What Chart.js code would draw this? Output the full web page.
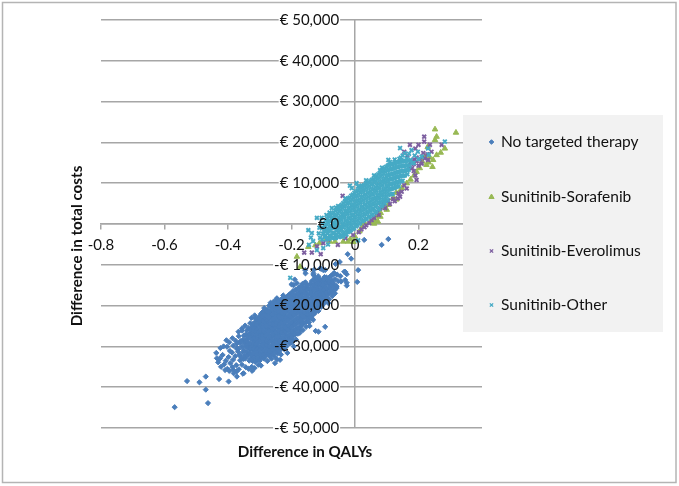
<!DOCTYPE html>
<html><head><meta charset="utf-8">
<script src="https://cdn.jsdelivr.net/npm/chart.js@4"></script>
<style>html,body{margin:0;padding:0;background:#fff}canvas{display:block}</style>
</head><body><canvas id="c" width="679" height="486"></canvas>
<script>
const seriesNames = ['No targeted therapy','Sunitinib-Sorafenib','Sunitinib-Everolimus','Sunitinib-Other'];
const qalyTickLabels = ['-0.8','-0.6','-0.4','-0.2','0','0.2','0.4'];
const costTickLabels = ['-€ 50,000','-€ 40,000','-€ 30,000','-€ 20,000','-€ 10,000','€ 0','€ 10,000','€ 20,000','€ 30,000','€ 40,000','€ 50,000'];
const xAxisTitle = 'Difference in QALYs';
const yAxisTitle = 'Difference in total costs';

// [difference in QALYs, difference in costs]
const noTargetedTherapy = [
[-.568,-44900],[-.463,-43900],[-.47,-40600],[-.529,-38500],[-.49,-38800],[-.47,-37400],[-.428,-38000],[-.398,-38600],
[.01,-11300],[.007,-14200],[-.023,-7400],[-.012,-8500],[-.034,-11700],[-.026,-12300],[-.031,-13700],[-.026,-14400],[-.026,-15100],[.029,-3900],[.084,-5100],[.105,-3700],
[-.048,-9300],[-.061,-9800],[-.094,-25200],[-.124,-26200],[-.058,-15700],[-.143,-25000],
[-.314,-23100],[-.356,-25600],[-.367,-26400],[-.299,-23900],[-.246,-18200],[-.157,-11300],[-.131,-12500],[-.1,-11300],[-.066,-12100],[-.031,-11700],[-.058,-15400],[-.063,-17000],[-.084,-19400],[-.115,-26400],[-.136,-23100],[-.173,-26000],[-.236,-33300],[-.252,-34100],[-.325,-35000],[-.351,-36600],[-.383,-35800],[-.425,-32900],[-.435,-32900],[-.409,-35800],[-.372,-37400],[-.131,-12100],[-.11,-10900],[-.094,-11300],[-.194,-15000],[-.2,-14800],
[-.437,-31600],[-.431,-33900],[-.424,-30400],[-.427,-33100],[-.422,-35000],[-.414,-30000],[-.417,-32100],[-.412,-34400],
[-.405,-28500],[-.403,-30100],[-.407,-33500],[-.402,-35500],[-.396,-29000],[-.394,-31100],[-.398,-32600],[-.393,-34100],[-.396,-36000],
[-.386,-28000],[-.383,-29800],[-.387,-31500],[-.384,-33300],[-.386,-35100],[-.382,-36600],
[-.376,-28600],[-.373,-30500],[-.377,-32400],[-.374,-34600],[-.372,-36100],
[-.366,-27500],[-.363,-29100],[-.367,-30600],[-.364,-32100],[-.362,-33400],[-.366,-35600],
[-.356,-26100],[-.353,-28400],[-.357,-30000],[-.354,-31500],[-.352,-33100],[-.356,-34500],[-.353,-36700],
[-.346,-24900],[-.343,-27000],[-.347,-28500],[-.344,-30000],[-.342,-31400],[-.346,-33000],[-.344,-35100],
[-.336,-25500],[-.333,-27100],[-.337,-28200],[-.334,-29500],[-.332,-30800],[-.336,-32000],[-.333,-33500],[-.335,-35500],
[-.326,-23000],[-.323,-25000],[-.327,-26200],[-.324,-27400],[-.322,-28600],[-.326,-29800],[-.323,-31000],[-.325,-32200],[-.322,-33600],[-.324,-36000],
[-.316,-22400],[-.313,-23900],[-.317,-25100],[-.314,-26300],[-.312,-27500],[-.316,-28700],[-.313,-29900],[-.315,-31100],[-.312,-32300],[-.314,-33800],[-.316,-35300],
[-.306,-23200],[-.303,-24400],[-.307,-25600],[-.304,-26800],[-.302,-28000],[-.306,-29200],[-.303,-30400],[-.305,-31600],[-.302,-32800],[-.304,-34500],
[-.296,-22000],[-.293,-23200],[-.297,-24400],[-.294,-25600],[-.292,-26800],[-.296,-28000],[-.293,-29200],[-.295,-30400],[-.292,-31600],[-.294,-32800],[-.296,-34700],
[-.286,-20600],[-.283,-21900],[-.287,-23100],[-.284,-24300],[-.282,-25500],[-.286,-26700],[-.283,-27900],[-.285,-29100],[-.282,-30300],[-.284,-31500],[-.286,-33000],
[-.276,-21000],[-.273,-22200],[-.277,-23400],[-.274,-24600],[-.272,-25800],[-.276,-27000],[-.273,-28200],[-.275,-29400],[-.272,-30600],[-.274,-31800],[-.276,-33600],
[-.266,-19300],[-.263,-20500],[-.267,-21700],[-.264,-22900],[-.262,-24100],[-.266,-25300],[-.263,-26500],[-.265,-27700],[-.262,-28900],[-.264,-30100],[-.266,-31400],[-.263,-33000],
[-.256,-19000],[-.253,-20200],[-.257,-21400],[-.254,-22600],[-.252,-23800],[-.256,-25000],[-.253,-26200],[-.255,-27400],[-.252,-28600],[-.254,-29800],[-.256,-31000],[-.253,-32500],
[-.246,-18400],[-.243,-19700],[-.247,-20900],[-.244,-22100],[-.242,-23300],[-.246,-24500],[-.243,-25700],[-.245,-26900],[-.242,-28100],[-.244,-29300],[-.246,-30500],[-.243,-31700],[-.245,-33200],
[-.236,-18700],[-.233,-19900],[-.237,-21100],[-.234,-22300],[-.232,-23500],[-.236,-24700],[-.233,-25900],[-.235,-27100],[-.232,-28300],[-.234,-29500],[-.236,-30700],[-.233,-32000],
[-.226,-17500],[-.223,-18700],[-.227,-19900],[-.224,-21100],[-.222,-22300],[-.226,-23500],[-.223,-24700],[-.225,-25900],[-.222,-27100],[-.224,-28300],[-.226,-29500],[-.223,-30700],
[-.216,-17900],[-.213,-19100],[-.217,-20300],[-.214,-21500],[-.212,-22700],[-.216,-23900],[-.213,-25100],[-.215,-26300],[-.212,-27500],[-.214,-28700],[-.216,-30000],[-.213,-31600],
[-.206,-17200],[-.203,-18400],[-.207,-19600],[-.204,-20800],[-.202,-22000],[-.206,-23200],[-.203,-24400],[-.205,-25600],[-.202,-26800],[-.204,-28000],[-.206,-29300],
[-.196,-16500],[-.193,-17700],[-.197,-18900],[-.194,-20100],[-.192,-21300],[-.196,-22500],[-.193,-23700],[-.195,-24900],[-.192,-26100],[-.194,-27300],[-.196,-28500],[-.193,-30000],
[-.186,-16000],[-.183,-17200],[-.187,-18400],[-.184,-19600],[-.182,-20800],[-.186,-22000],[-.183,-23200],[-.185,-24400],[-.182,-25600],[-.184,-26800],[-.186,-28300],
[-.176,-15600],[-.173,-16800],[-.177,-18000],[-.174,-19200],[-.172,-20400],[-.176,-21600],[-.173,-22800],[-.175,-24000],[-.172,-25200],[-.174,-26700],
[-.166,-14700],[-.163,-15900],[-.167,-17100],[-.164,-18300],[-.162,-19500],[-.166,-20700],[-.163,-21900],[-.165,-23100],[-.162,-24300],[-.164,-26000],
[-.156,-14300],[-.153,-15500],[-.157,-16700],[-.154,-17900],[-.152,-19100],[-.156,-20300],[-.153,-21500],[-.155,-22700],[-.152,-24000],[-.154,-25200],
[-.146,-15800],[-.143,-17000],[-.147,-18200],[-.144,-19400],[-.142,-20600],[-.146,-21800],[-.143,-23000],[-.145,-24100],
[-.136,-14000],[-.133,-15200],[-.137,-16400],[-.134,-17600],[-.132,-18800],[-.136,-20000],[-.133,-21200],[-.135,-22400],[-.132,-23500],
[-.126,-13200],[-.123,-14400],[-.127,-15600],[-.124,-16800],[-.122,-18000],[-.126,-19200],[-.123,-20400],[-.125,-21700],
[-.116,-12800],[-.113,-14000],[-.117,-15200],[-.114,-16400],[-.112,-17600],[-.116,-18800],[-.113,-20000],[-.115,-21300],
[-.106,-14100],[-.103,-15300],[-.107,-16500],[-.104,-17700],[-.102,-18900],[-.106,-20300],
[-.096,-13000],[-.093,-14200],[-.097,-15400],[-.094,-16600],[-.092,-17800],[-.096,-19200],
[-.086,-13600],[-.083,-14800],[-.087,-16000],[-.084,-17200],[-.082,-18500],
[-.076,-12700],[-.073,-13900],[-.077,-15100],[-.074,-16300],[-.072,-17700],
[-.066,-12000],[-.063,-13500],[-.067,-14700],[-.064,-16200],
[-.056,-12400],[-.053,-14000],[-.059,-15200],
[-.046,-12800],[-.044,-14100],[-.107,-11000],[-.13,-11300],[-.156,-12100],[-.19,-13600],[-.183,-14500],
[-.372,-29300],[-.368,-31300],[-.36,-28700],[-.358,-32700],[-.35,-27300],[-.349,-29200],[-.351,-30800],[-.347,-32300],[-.341,-26100],[-.34,-27700],[-.339,-29000],[-.338,-30300],[-.34,-32400],
[-.33,-24300],[-.329,-25800],[-.331,-26900],[-.328,-28100],[-.33,-29300],[-.329,-30500],[-.331,-31700],[-.328,-33000],
[-.32,-24400],[-.319,-25700],[-.321,-26900],[-.318,-28000],[-.32,-29200],[-.319,-30500],[-.321,-31700],[-.318,-32900],
[-.31,-23400],[-.311,-24700],[-.309,-25800],[-.31,-27100],[-.308,-28300],[-.311,-29400],[-.309,-30700],[-.31,-31900],[-.308,-33300],
[-.3,-22600],[-.301,-23800],[-.299,-25000],[-.3,-26300],[-.298,-27400],[-.301,-28600],[-.299,-29900],[-.3,-31000],[-.298,-32200],[-.3,-33500],
[-.29,-21500],[-.291,-22600],[-.289,-23800],[-.29,-25100],[-.288,-26200],[-.291,-27400],[-.289,-28600],[-.29,-29800],[-.288,-31000],[-.29,-32100],
[-.28,-21300],[-.281,-22500],[-.279,-23700],[-.28,-24900],[-.278,-26100],[-.281,-27300],[-.279,-28500],[-.28,-29700],[-.278,-30900],[-.28,-32300],
[-.27,-20000],[-.271,-21400],[-.269,-22800],[-.27,-23900],[-.268,-25200],[-.271,-26300],[-.269,-27500],[-.27,-28800],[-.268,-30000],[-.27,-31200],[-.269,-32400],
[-.26,-19600],[-.261,-21000],[-.259,-22200],[-.26,-23400],[-.258,-24600],[-.261,-25800],[-.259,-27000],[-.26,-28300],[-.258,-29500],[-.26,-30600],[-.259,-31900],
[-.25,-19200],[-.251,-20500],[-.249,-21800],[-.25,-23000],[-.248,-24200],[-.251,-25400],[-.249,-26600],[-.25,-27800],[-.248,-29000],[-.25,-30200],[-.249,-31400],
[-.24,-19000],[-.241,-20300],[-.239,-21500],[-.24,-22700],[-.238,-23900],[-.241,-25100],[-.239,-26300],[-.24,-27500],[-.238,-28700],[-.24,-29900],[-.239,-31200],
[-.23,-18300],[-.231,-19400],[-.229,-20600],[-.23,-21800],[-.228,-23000],[-.231,-24200],[-.229,-25400],[-.23,-26600],[-.228,-27800],[-.23,-29000],[-.229,-30200],
[-.22,-18100],[-.221,-19300],[-.219,-20500],[-.22,-21700],[-.218,-22900],[-.221,-24100],[-.219,-25300],[-.22,-26500],[-.218,-27700],[-.22,-28900],[-.219,-30100],
[-.21,-17600],[-.211,-18800],[-.209,-20000],[-.21,-21200],[-.208,-22400],[-.211,-23600],[-.209,-24800],[-.21,-26000],[-.208,-27200],[-.21,-28400],
[-.2,-17000],[-.201,-18100],[-.199,-19300],[-.2,-20500],[-.198,-21700],[-.201,-22900],[-.199,-24100],[-.2,-25300],[-.198,-26500],[-.2,-27800],[-.199,-29000],
[-.19,-16300],[-.191,-17500],[-.189,-18700],[-.19,-19900],[-.188,-21100],[-.191,-22300],[-.189,-23500],[-.19,-24700],[-.188,-25900],[-.19,-27100],
[-.18,-15900],[-.181,-17100],[-.179,-18300],[-.18,-19500],[-.178,-20700],[-.181,-21900],[-.179,-23100],[-.18,-24300],[-.178,-25500],[-.18,-26900],
[-.17,-15200],[-.171,-16400],[-.169,-17600],[-.17,-18800],[-.168,-20000],[-.171,-21200],[-.169,-22400],[-.17,-23600],[-.168,-24800],
[-.16,-14500],[-.161,-15700],[-.159,-16900],[-.16,-18100],[-.158,-19300],[-.161,-20500],[-.159,-21700],[-.16,-22900],[-.158,-24100],
[-.15,-15000],[-.151,-16200],[-.149,-17400],[-.15,-18600],[-.148,-19800],[-.151,-21000],[-.149,-22200],[-.15,-23400],
[-.14,-14700],[-.141,-15900],[-.139,-17100],[-.14,-18300],[-.138,-19500],[-.141,-20700],[-.139,-21900],[-.14,-23000],
[-.13,-13700],[-.131,-14900],[-.129,-16100],[-.13,-17300],[-.128,-18500],[-.131,-19700],[-.129,-20900],[-.13,-22100],
[-.12,-13400],[-.121,-14600],[-.119,-15800],[-.12,-17000],[-.118,-18200],[-.121,-19400],[-.119,-20600],
[-.11,-13500],[-.111,-14700],[-.109,-15900],[-.11,-17100],[-.108,-18300],[-.111,-19500],
[-.1,-13600],[-.101,-14800],[-.099,-16000],[-.1,-17200],[-.098,-18400],[-.101,-19800],
[-.09,-13100],[-.091,-14500],[-.089,-15700],[-.09,-16900],[-.088,-18200],
[-.08,-13000],[-.081,-14200],[-.079,-15600],[-.08,-16800],
[-.07,-12500],[-.071,-14300],[-.069,-15500],[-.07,-17000]
];
const sunitinibSorafenib = [
[.252,23200],[.318,22400],[.257,21400],[.252,20600],[.229,18900],[.283,18500],[.27,17500],[.257,16900],[.246,15700],[.244,14000],[.225,14500],[.204,13700],[.194,12800],
[.236,16300],[.22,16500],[.212,15300],[.232,15100],[.186,11900],[.163,10000],[.175,10900],[.12,6400],[.105,4700],[.089,4200],[.097,5500],[.063,1000],[.056,600],[.048,500],[.072,600],[.068,1900],[.081,2700],
[0,-3100],[-.022,-4300],[-.037,-4300],[-.063,-4300],[-.079,-4300],[-.147,-5600],[-.183,-8000],[-.173,-10500],[-.125,-5200],[-.09,-3700],[-.015,-3700],[-.112,-4700],[-.005,-4400],
[.13,7700],[.148,8800],[.024,-600],[.03,300],[.014,-1800],[.06,100],[.08,1800],[.1,3500],[.13,6000],[.142,8100]
];
const sunitinibEverolimus = [
[.218,21400],[.218,20200],[.173,19400],[.2,19400],[.236,19400],[.273,19400],[.241,17700],[.19,18500],[.155,17700],
[.165,16800],[.194,16300],[.205,15800],[.22,16100],[.23,15700],[.194,15400],[.185,15800],[.175,15000],[.21,14800],[.2,14300],[.185,14700],
[.228,17100],[.215,17400],[.18,13700],[.17,13800],
[.194,10800],[.19,11900],[.185,13000],[.163,8700],[.147,7900],[.142,6700],[.137,7500],[.155,9500],
[-.039,6900],[.12,6100],[.105,5700],[.09,4900],[.06,1500],[.052,1000],[.035,-300],[.02,-1300],[-.006,-2700],[-.054,-5100],[-.1,-4700],[-.108,-7400],[-.136,-7000],[-.16,-7000],[-.085,-3800],[-.12,-5500],[.08,3800],[.07,2700],[-.03,-3500],
[.03,-800],[.045,200],[.075,2200],[.095,3900],[.11,4900],[.125,5600],[.135,6300],[.012,-2000]
];
const sunitinibOther = [
[-.147,-1500],[-.136,-2200],[-.139,-3300],[-.132,-4200],[-.145,-5100],[-.12,-6400],[-.1,-5900],[-.204,-13200],[-.12,1500],[-.105,1500],[-.073,3900],[-.053,4400],[-.016,9400],[-.01,8800],[.005,10000],[.021,9400],
[.105,15700],[.079,13200],[.09,13000],[.142,18600],[.157,17300],[.178,18100],[.198,17700],[.21,16500],[.23,18500],[.283,20200],[.232,17000],[.163,16100],[.15,16800],[.17,17200],[.188,16800],[.145,16300],[.2,15900],[.175,15700],[.185,15000],
[.01,-4000],[-.085,-5000],
[-.09,2200],[-.08,2800],[-.06,4000],[-.03,6300],[.01,9200],[.035,10700],[.06,11900],[.085,13800],[.11,15200],[.125,15800],[.14,16000],
[-.112,-900],[-.114,-2300],[-.11,-3400],
[-.102,200],[-.104,-1100],[-.101,-2400],[-.103,-3800],
[-.092,900],[-.094,-300],[-.091,-1500],[-.093,-2700],[-.09,-3800],
[-.082,1800],[-.084,600],[-.081,-600],[-.083,-1700],[-.08,-2800],[-.082,-3700],
[-.072,2500],[-.074,1300],[-.071,100],[-.073,-1000],[-.07,-2200],[-.072,-3500],
[-.062,3200],[-.064,2000],[-.061,800],[-.063,-400],[-.06,-1600],[-.062,-2700],[-.061,-3500],
[-.052,3900],[-.054,2700],[-.051,1500],[-.053,300],[-.05,-900],[-.052,-2100],[-.051,-3200],
[-.042,4700],[-.044,3500],[-.041,2300],[-.043,1100],[-.04,-100],[-.042,-1300],[-.041,-2800],
[-.032,5500],[-.034,4300],[-.031,3100],[-.033,1900],[-.03,700],[-.032,-500],[-.031,-2400],
[-.022,6200],[-.024,5000],[-.021,3800],[-.023,2600],[-.02,1400],[-.022,200],[-.021,-1000],[-.023,-2000],
[-.012,6900],[-.014,5700],[-.011,4500],[-.013,3300],[-.01,2100],[-.012,900],[-.011,-300],[-.013,-1500],
[-.002,7600],[-.004,6400],[-.001,5200],[-.003,4000],[0,2800],[-.002,1600],[-.001,400],[-.003,-1000],
[.008,8200],[.006,7000],[.009,5800],[.007,4600],[.01,3400],[.008,2200],[.009,1000],[.007,-300],
[.018,8900],[.016,7700],[.019,6500],[.017,5300],[.02,4100],[.018,2900],[.019,1700],[.017,300],
[.028,9500],[.026,8300],[.029,7100],[.027,5900],[.03,4700],[.028,3500],[.029,2300],[.027,900],
[.038,10000],[.036,8800],[.039,7600],[.037,6400],[.04,5200],[.038,4000],[.039,2800],[.037,1300],
[.048,10500],[.046,9300],[.049,8100],[.047,6900],[.05,5700],[.048,4500],[.049,3300],[.047,1900],
[.058,11000],[.056,9800],[.059,8600],[.057,7400],[.06,6200],[.058,5000],[.059,3800],[.057,2400],
[.068,11800],[.066,10600],[.069,9400],[.067,8200],[.07,7000],[.068,5800],[.069,4600],[.067,3100],
[.078,12500],[.076,11300],[.079,10100],[.077,8900],[.08,7700],[.078,6500],[.079,5300],[.077,3800],
[.088,13200],[.086,12000],[.089,10800],[.087,9600],[.09,8400],[.088,7200],[.089,6000],[.087,4700],
[.098,14000],[.096,12800],[.099,11600],[.097,10400],[.1,9200],[.098,8000],[.099,6800],[.097,5600],
[.108,14500],[.106,13300],[.109,12100],[.107,10900],[.11,9700],[.108,8500],[.109,7300],
[.118,14700],[.116,13500],[.119,12300],[.117,11100],[.12,9900],[.118,8700],[.119,7400],
[.128,15000],[.126,13800],[.129,12600],[.127,11400],[.13,10200],[.128,9000],
[.138,15200],[.136,14000],[.139,12800],[.137,11600],[.14,10400],[.138,9300],
[.148,15400],[.146,14200],[.149,13000],[.147,11800],[.15,10600],
[.158,15500],[.156,14300],[.159,13100],[.157,11900],
[.168,15500],[.166,14400],[.169,13300],[.172,14300],[.18,14900],
[-.097,-300],[-.098,-1700],[-.096,-3100],[-.087,1300],[-.088,-100],[-.086,-1200],[-.087,-2300],[-.086,-3300],
[-.077,2100],[-.078,700],[-.076,-500],[-.077,-1600],[-.076,-2900],
[-.067,2800],[-.068,1500],[-.066,200],[-.067,-1000],[-.066,-2200],[-.067,-3300],
[-.057,3500],[-.058,2100],[-.056,900],[-.057,-300],[-.056,-1500],[-.057,-2600],
[-.047,4300],[-.048,3100],[-.046,1900],[-.047,700],[-.046,-500],[-.047,-1700],[-.046,-3000],
[-.037,5100],[-.038,3900],[-.036,2700],[-.037,1500],[-.036,300],[-.037,-900],[-.036,-2100],[-.037,-3100],
[-.027,5800],[-.028,4600],[-.026,3400],[-.027,2200],[-.026,1000],[-.027,-200],[-.026,-1400],[-.027,-2600],
[-.017,6500],[-.018,5300],[-.016,4100],[-.017,2900],[-.016,1700],[-.017,500],[-.016,-700],[-.017,-1800],
[-.007,7200],[-.008,6000],[-.006,4800],[-.007,3600],[-.006,2400],[-.007,1200],[-.006,0],[-.007,-1200],
[.003,7900],[.002,6700],[.004,5500],[.003,4300],[.004,3100],[.003,1900],[.004,700],[.003,-600],
[.013,8500],[.012,7300],[.014,6100],[.013,4900],[.014,3700],[.013,2500],[.014,1300],[.013,0],
[.023,9200],[.022,8000],[.024,6800],[.023,5600],[.024,4400],[.023,3200],[.024,2000],[.023,700],
[.033,9700],[.032,8500],[.034,7300],[.033,6100],[.034,4900],[.033,3700],[.034,2500],[.033,1200],
[.043,10200],[.042,9000],[.044,7800],[.043,6600],[.044,5400],[.043,4200],[.044,3000],[.043,1700],
[.053,10800],[.052,9600],[.054,8400],[.053,7200],[.054,6000],[.053,4800],[.054,3600],[.053,2200],
[.063,11400],[.062,10200],[.064,9000],[.063,7800],[.064,6600],[.063,5400],[.064,4200],[.063,2800],
[.073,12200],[.072,11000],[.074,9800],[.073,8600],[.074,7400],[.073,6200],[.074,5000],[.073,3500],
[.083,12900],[.082,11700],[.084,10500],[.083,9300],[.084,8100],[.083,6900],[.084,5700],[.083,4300],
[.093,13600],[.092,12400],[.094,11200],[.093,10000],[.094,8800],[.093,7600],[.094,6400],[.093,5100],
[.103,14300],[.102,13100],[.104,11900],[.103,10700],[.104,9500],[.103,8300],[.104,7100],[.103,5900],
[.113,14600],[.112,13400],[.114,12200],[.113,11000],[.114,9800],[.113,8600],[.114,7300],
[.123,14800],[.122,13600],[.124,12400],[.123,11200],[.124,10000],[.123,8800],
[.133,15100],[.132,13900],[.134,12700],[.133,11500],[.134,10300],[.133,9200],
[.143,15300],[.142,14100],[.144,12900],[.143,11700],[.144,10500],
[.153,15400],[.152,14200],[.154,13000],[.153,11800],
[.163,15500],[.162,14300],[.164,13200],[.165,12200]
];
const seriesData = [noTargetedTherapy, sunitinibSorafenib, sunitinibEverolimus, sunitinibOther];
const seriesColors = ['#4a7ebb','#98b954','#7d5fa0','#46aac5'];
const seriesStyles = ['rectRot','triangle','crossRot','crossRot'];

const FONT = 'Lato, Carlito, sans-serif';
const panel = {left:463, top:115, right:663, bottom:332};
const legendRowY = [142,197,251,305];

const decoration = {
  id:'decoration',
  beforeDraw(chart){
    const c = chart.ctx;
    c.save();
    c.strokeStyle = '#b4b4b4'; c.lineWidth = 1.5;
    c.strokeRect(2.5,2.5,673.5,480);
    c.restore();
  },
  beforeDatasetsDraw(chart){
    // the tick labels of the vertical axis interrupt the gridlines
    const c = chart.ctx, y = chart.scales.y, x = chart.scales.x;
    const right = x.getPixelForValue(y.options.position.x);
    c.save();
    c.font = '15px '+FONT;
    c.fillStyle = '#fff';
    costTickLabels.forEach((t,i)=>{
      const w = c.measureText(t).width;
      c.fillRect(right-w-1, y.getPixelForTick(i)-3, w+2, 6);
    });
    c.restore();
  },
  afterDraw(chart){
    const c = chart.ctx;
    c.save();
    c.fillStyle = '#f2f2f2';
    c.fillRect(panel.left,panel.top,panel.right-panel.left,panel.bottom-panel.top);
    c.textBaseline = 'middle'; c.textAlign = 'left';
    seriesNames.forEach((n,i)=>{
      c.fillStyle = seriesColors[i]; c.strokeStyle = seriesColors[i]; c.lineWidth = i>1?1.4:1;
      Chart.helpers.drawPoint(c,{pointStyle:seriesStyles[i],radius:i===1?3:2.3,borderWidth:i>1?1.4:1},491.5,legendRowY[i]);
      c.fillStyle = '#111';
      c.font = '15.5px '+FONT;
      c.fillText(n,501,legendRowY[i]);
    });
    c.font = 'bold 15.2px '+FONT;
    c.textAlign = 'center';
    c.fillText(xAxisTitle,305,452);
    c.translate(77,246); c.rotate(-Math.PI/2);
    c.fillText(yAxisTitle,0,0);
    c.restore();
  }
};

new Chart(document.getElementById('c'),{
  type:'scatter',
  data:{datasets:seriesData.map((d,i)=>({
    label:seriesNames[i],
    data:d.map(p=>({x:p[0],y:p[1]})),
    order:4-i,
    pointStyle:seriesStyles[i],
    pointRadius:i===1?3.2:(i===0?2.6:2.7),
    pointBackgroundColor:seriesColors[i],
    pointBorderColor:seriesColors[i],
    pointBorderWidth:i>1?1.9:1
  }))},
  options:{
    responsive:false, animation:false, devicePixelRatio:1,
    layout:{padding:{left:101,right:197,top:20,bottom:58}},
    plugins:{legend:{display:false},title:{display:false},tooltip:{enabled:false}},
    scales:{
      x:{type:'linear',min:-.8,max:.4,position:{y:0},
        afterBuildTicks(s){s.ticks=qalyTickLabels.map(t=>({value:+t}));},
        grid:{drawTicks:true,tickLength:5,lineWidth:1.5,tickWidth:1.5,tickColor:'#a6a6a6',
          color:c=>c.tick&&c.tick.value===0?'#a6a6a6':'rgba(0,0,0,0)'},
        border:{display:true,color:'#a6a6a6',width:1.5},
        ticks:{z:1,padding:7,color:'#111',font:{family:FONT,size:15},maxRotation:0,autoSkip:false,
          callback:(v,i)=>qalyTickLabels[i]}},
      y:{type:'linear',min:-50000,max:50000,position:{x:-.05},
        afterBuildTicks(s){s.ticks=costTickLabels.map((t,i)=>({value:-50000+i*10000}));},
        grid:{drawTicks:false,lineWidth:1.5,color:'#a6a6a6'},
        border:{display:false},
        ticks:{z:1,color:'#111',font:{family:FONT,size:15},autoSkip:false,
          callback:(v,i)=>costTickLabels[i]}}
    }
  },
  plugins:[decoration]
});
</script></body></html>
